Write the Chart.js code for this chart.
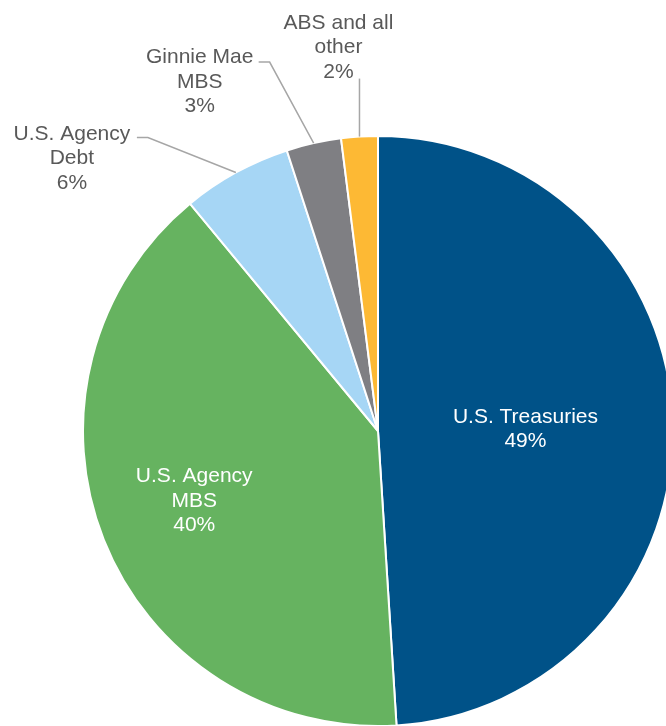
<!DOCTYPE html>
<html>
<head>
<meta charset="utf-8">
<script src="https://cdn.jsdelivr.net/npm/chart.js@4"></script>
<style>
    body { margin: 0; overflow: hidden; background: #fff; }
    canvas { display: block; }
</style>
</head>
<body>
<canvas id="pie-chart" width="700" height="726"></canvas>
<script>
// holdings mix - pie

const categories = ['U.S. Treasuries', 'U.S. Agency MBS', 'U.S. Agency Debt', 'Ginnie Mae MBS', 'ABS and all other'];
const shares = [49, 40, 6, 3, 2];
// label text, split into lines
const labelLines = [
    ['U.S. Treasuries'],
    ['U.S. Agency', 'MBS'],
    ['U.S. Agency', 'Debt'],
    ['Ginnie Mae', 'MBS'],
    ['ABS and all', 'other']
];
const colors = ['#005288', '#66b360', '#a6d6f5', '#7f7f83', '#fdb934'];

// where each label goes: inside at a fraction of the radius, or outside with a leader line
const labelStyle = [
    { inside: true, frac: 0.5, dy: 3 },
    { inside: true, frac: 0.67, dy: -3 },
    { elbow: [-88, -35], tail: -11, text: [-65, 21] },
    { elbow: [-44, -81], tail: -11, text: [-59, 20] },
    { elbow: [0, -58], tail: 0, text: [-21, -31] }
];

const FONT = '21px "Liberation Sans", Arial, sans-serif';
const LINE_H = 24.5;

function drawBlock(ctx, lines, cx, cy) {
    const top = cy - (lines.length - 1) * LINE_H / 2;
    lines.forEach((ln, i) => ctx.fillText(ln, cx, top + i * LINE_H));
}

// draws the slice labels
const sliceLabels = {
    id: 'sliceLabels',
    afterDatasetsDraw(chart) {
        const ctx = chart.ctx;
        const arcs = chart.getDatasetMeta(0).data;
        ctx.save();
        ctx.font = FONT;
        ctx.textAlign = 'center';
        ctx.textBaseline = 'middle';
        arcs.forEach((arc, i) => {
            const p = arc.getProps(['x', 'y', 'startAngle', 'endAngle', 'outerRadius'], true);
            const mid = (p.startAngle + p.endAngle) / 2;
            const st = labelStyle[i];
            const lines = labelLines[i].concat([shares[i] + '%']);
            if (st.inside) {
                const r = p.outerRadius * st.frac;
                ctx.fillStyle = '#ffffff';
                drawBlock(ctx, lines, p.x + Math.cos(mid) * r, p.y + Math.sin(mid) * r + st.dy);
                return;
            }
            const ex = p.x + Math.cos(mid) * p.outerRadius;
            const ey = p.y + Math.sin(mid) * p.outerRadius;
            const bx = ex + st.elbow[0];
            const by = ey + st.elbow[1];
            const tx = bx + st.tail;
            ctx.strokeStyle = '#a6a6a6';
            ctx.lineWidth = 1.5;
            ctx.beginPath();
            ctx.moveTo(ex, ey);
            ctx.lineTo(bx, by);
            ctx.lineTo(tx, by);
            ctx.stroke();
            ctx.fillStyle = '#595959';
            drawBlock(ctx, lines, tx + st.text[0], by + st.text[1]);
        });
        ctx.restore();
    }
};

const pieCtx = document.getElementById('pie-chart').getContext('2d');
new Chart(pieCtx, {
    type: 'pie',
    data: {
        labels: categories,
        datasets: [{
            data: shares,
            backgroundColor: colors,
            borderColor: '#ffffff',
            borderWidth: 2,
            radius: 295,
            hoverOffset: 0
        }]
    },
    options: {
        responsive: false,
        animation: false,
        layout: { padding: { left: 83, right: 27, top: 136, bottom: 0 } },
        plugins: {
            legend: { display: false },
            tooltip: { enabled: false }
        }
    },
    plugins: [sliceLabels]
});
</script>
</body>
</html>
